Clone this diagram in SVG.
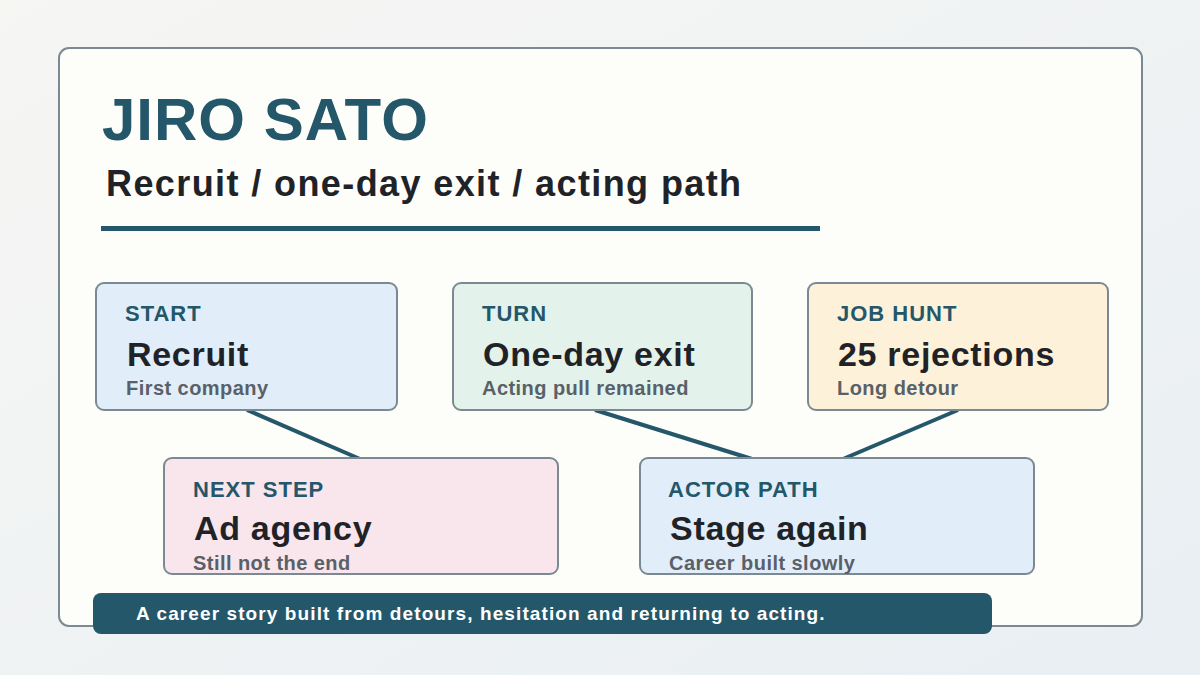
<svg xmlns="http://www.w3.org/2000/svg" width="1200" height="675" viewBox="0 0 1200 675">
<defs>
<linearGradient id="bg" x1="0" y1="0" x2="1" y2="1">
<stop offset="0" stop-color="#f6f6f3"/>
<stop offset="1" stop-color="#e9eff3"/>
</linearGradient>
<style>
.font{font-family:"Liberation Sans",Arial,sans-serif;font-weight:bold}
.box{stroke:#7b8a92;stroke-width:2}
.lab{font-size:22px;fill:#24576a;letter-spacing:1px}
.main{font-size:34px;fill:#1f2328;letter-spacing:0.7px}
.sub{font-size:20px;fill:#5a6068;letter-spacing:0.45px}
.conn{stroke:#24576a;stroke-width:4;fill:none}
</style>
</defs>
<rect width="1200" height="675" fill="url(#bg)"/>
<rect x="59" y="48" width="1083" height="578" rx="10" fill="#fdfdf9" stroke="#7b8a92" stroke-width="2"/>
<g id="title" class="font">
<text x="102" y="140" font-size="60" fill="#24576a" letter-spacing="1">JIRO SATO</text>
<text x="106" y="196" font-size="36" fill="#1f2328" letter-spacing="1.4">Recruit / one-day exit / acting path</text>
<rect x="101" y="226" width="719" height="5" fill="#24576a"/>
</g>
<g id="connectors">
<line class="conn" x1="247" y1="410" x2="360" y2="459"/>
<line class="conn" x1="595" y1="410" x2="752" y2="459"/>
<line class="conn" x1="958" y1="410" x2="843" y2="459"/>
</g>
<g id="start" class="font">
<rect class="box" x="96" y="283" width="301" height="127" rx="8" fill="#e1eef9"/>
<text class="lab" x="125" y="321">START</text>
<text class="main" x="127" y="366">Recruit</text>
<text class="sub" x="126" y="395">First company</text>
</g>
<g id="turn" class="font">
<rect class="box" x="453" y="283" width="299" height="127" rx="8" fill="#e3f2ea"/>
<text class="lab" x="482" y="321">TURN</text>
<text class="main" x="483" y="366">One-day exit</text>
<text class="sub" x="482" y="395">Acting pull remained</text>
</g>
<g id="jobhunt" class="font">
<rect class="box" x="808" y="283" width="300" height="127" rx="8" fill="#fdf2d9"/>
<text class="lab" x="837" y="321">JOB HUNT</text>
<text class="main" x="838" y="366">25 rejections</text>
<text class="sub" x="837" y="395">Long detour</text>
</g>
<g id="nextstep" class="font">
<rect class="box" x="164" y="458" width="394" height="116" rx="8" fill="#f9e5ec"/>
<text class="lab" x="193" y="497">NEXT STEP</text>
<text class="main" x="194" y="540">Ad agency</text>
<text class="sub" x="193" y="570">Still not the end</text>
</g>
<g id="actorpath" class="font">
<rect class="box" x="640" y="458" width="394" height="116" rx="8" fill="#e1eef9"/>
<text class="lab" x="668" y="497">ACTOR PATH</text>
<text class="main" x="670" y="540">Stage again</text>
<text class="sub" x="669" y="570">Career built slowly</text>
</g>
<g id="footer" class="font">
<rect x="93" y="593" width="899" height="41" rx="8" fill="#24576a"/>
<text x="136" y="620" font-size="19" fill="#ffffff" letter-spacing="1.1">A career story built from detours, hesitation and returning to acting.</text>
</g>
</svg>
